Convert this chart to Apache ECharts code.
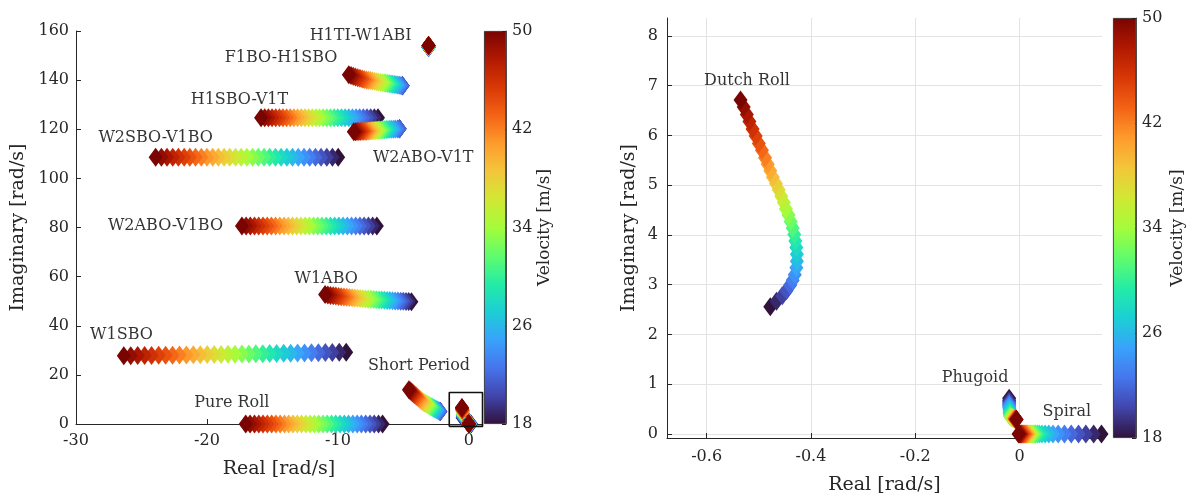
<!DOCTYPE html>
<html>
<head>
<meta charset="utf-8">
<script src="https://cdn.jsdelivr.net/npm/echarts@6/dist/echarts.min.js"></script>
<style>
html,body{margin:0;padding:0;background:#fff;}
#chart{width:1192px;height:503px;}
</style>
</head>
<body>
<div id="chart"></div>
<script>
// Velocity [m/s] for every point of each locus (ascending: drawn low first, high on top)
const V = [18,19,20,21,22,23,24,25,26,27,28,29,30,31,32,33,34,35,36,37,38,39,40,41,42,43,44,45,46,47,48,49,50];

// ---- Left panel loci (real, imaginary) ----
const pureRollRe = [-6.59,-6.90,-7.23,-7.55,-7.88,-8.21,-8.53,-8.86,-9.19,-9.51,-9.84,-10.17,-10.49,-10.82,-11.14,-11.47,-11.80,-12.12,-12.45,-12.78,-13.10,-13.43,-13.76,-14.08,-14.41,-14.74,-15.06,-15.39,-15.72,-16.04,-16.37,-16.71,-17.04];
const pureRollIm = [0,0,0,0,0,0,0,0,0,0,0,0,0,0,0,0,0,0,0,0,0,0,0,0,0,0,0,0,0,0,0,0,0];

const w1sboRe = [-9.37,-9.90,-10.43,-10.96,-11.49,-12.02,-12.55,-13.08,-13.61,-14.14,-14.68,-15.21,-15.74,-16.27,-16.80,-17.33,-17.86,-18.39,-18.92,-19.45,-19.98,-20.51,-21.04,-21.57,-22.10,-22.63,-23.16,-23.69,-24.23,-24.76,-25.29,-25.82,-26.35];
const w1sboIm = [29.2,29.2,29.1,29.1,29.0,29.0,28.9,28.9,28.8,28.8,28.7,28.7,28.6,28.6,28.5,28.5,28.4,28.4,28.3,28.3,28.3,28.2,28.2,28.1,28.1,28.0,28.0,28.0,27.9,27.9,27.9,27.8,27.8];

const w1aboRe = [-4.39,-4.60,-4.80,-5.01,-5.21,-5.42,-5.63,-5.83,-6.04,-6.24,-6.45,-6.66,-6.86,-7.07,-7.27,-7.48,-7.69,-7.89,-8.10,-8.30,-8.51,-8.72,-8.92,-9.13,-9.33,-9.54,-9.75,-9.95,-10.16,-10.36,-10.57,-10.77,-10.98];
const w1aboIm = [49.8,49.9,49.9,50.0,50.0,50.1,50.1,50.2,50.3,50.3,50.4,50.5,50.5,50.6,50.7,50.8,50.8,50.9,51.0,51.1,51.2,51.3,51.4,51.5,51.6,51.7,51.8,51.9,52.1,52.2,52.3,52.5,52.7];

const w2aboV1boRe = [-7.03,-7.35,-7.67,-8.00,-8.32,-8.64,-8.96,-9.28,-9.61,-9.93,-10.25,-10.57,-10.89,-11.22,-11.54,-11.86,-12.18,-12.50,-12.83,-13.15,-13.47,-13.79,-14.11,-14.44,-14.76,-15.08,-15.40,-15.72,-16.05,-16.37,-16.69,-17.01,-17.33];
const w2aboV1boIm = [80.6,80.6,80.6,80.6,80.6,80.6,80.6,80.6,80.6,80.6,80.6,80.6,80.6,80.6,80.6,80.6,80.6,80.6,80.6,80.6,80.6,80.6,80.6,80.6,80.6,80.6,80.6,80.6,80.6,80.6,80.6,80.6,80.6];

const w2sboV1boRe = [-9.98,-10.42,-10.85,-11.29,-11.72,-12.16,-12.59,-13.03,-13.47,-13.90,-14.34,-14.77,-15.21,-15.64,-16.08,-16.51,-16.95,-17.39,-17.82,-18.26,-18.69,-19.13,-19.56,-20.00,-20.43,-20.87,-21.31,-21.74,-22.18,-22.61,-23.05,-23.48,-23.92];
const w2sboV1boIm = [108.6,108.6,108.6,108.6,108.6,108.6,108.6,108.6,108.6,108.6,108.6,108.6,108.6,108.6,108.6,108.6,108.6,108.6,108.6,108.6,108.6,108.6,108.6,108.6,108.6,108.6,108.6,108.6,108.6,108.6,108.6,108.6,108.6];

const h1sboV1tRe = [-6.94,-7.22,-7.50,-7.78,-8.06,-8.34,-8.61,-8.89,-9.17,-9.45,-9.73,-10.01,-10.29,-10.57,-10.85,-11.13,-11.41,-11.68,-11.96,-12.24,-12.52,-12.80,-13.08,-13.36,-13.64,-13.92,-14.20,-14.47,-14.75,-15.03,-15.31,-15.59,-15.87];
const h1sboV1tIm = [124.7,124.7,124.7,124.7,124.7,124.7,124.7,124.7,124.7,124.7,124.7,124.7,124.7,124.7,124.7,124.7,124.7,124.7,124.7,124.7,124.7,124.7,124.7,124.7,124.7,124.7,124.7,124.7,124.7,124.7,124.7,124.7,124.7];

const w2aboV1tRe = [-5.30,-5.30,-5.30,-5.30,-5.30,-5.45,-5.62,-5.76,-5.90,-6.04,-6.18,-6.31,-6.43,-6.56,-6.68,-6.80,-6.91,-7.02,-7.13,-7.24,-7.35,-7.46,-7.58,-7.69,-7.80,-7.92,-8.04,-8.16,-8.29,-8.41,-8.54,-8.66,-8.79];
const w2aboV1tIm = [120.2,120.2,120.2,120.2,120.2,120.15,120.1,120.05,120.0,119.95,119.9,119.85,119.8,119.75,119.7,119.65,119.6,119.55,119.5,119.45,119.4,119.35,119.3,119.25,119.2,119.2,119.15,119.15,119.1,119.1,119.05,119.0,119.0];

const f1boH1sboRe = [-5.07,-5.07,-5.07,-5.07,-5.07,-5.19,-5.32,-5.44,-5.57,-5.70,-5.83,-5.95,-6.08,-6.21,-6.34,-6.46,-6.59,-6.74,-6.90,-7.05,-7.20,-7.36,-7.51,-7.67,-7.82,-7.99,-8.15,-8.32,-8.49,-8.66,-8.83,-9.00,-9.17];
const f1boH1sboIm = [137.7,137.7,137.7,137.7,137.7,137.8,137.9,138.0,138.1,138.2,138.3,138.4,138.5,138.6,138.7,138.8,138.9,139.0,139.2,139.3,139.5,139.6,139.8,139.9,140.1,140.3,140.5,140.8,141.0,141.3,141.6,141.9,142.2];

const h1tiW1abiRe = [-3.08,-3.08,-3.08,-3.08,-3.08,-3.08,-3.08,-3.08,-3.08,-3.08,-3.08,-3.08,-3.08,-3.08,-3.08,-3.08,-3.08,-3.08,-3.08,-3.08,-3.08,-3.08,-3.08,-3.08,-3.08,-3.08,-3.08,-3.08,-3.08,-3.08,-3.08,-3.08,-3.08];
const h1tiW1abiIm = [153.3,153.3,153.35,153.4,153.4,153.45,153.5,153.5,153.55,153.6,153.6,153.65,153.7,153.7,153.75,153.8,153.8,153.8,153.85,153.85,153.9,153.9,153.9,153.95,153.95,154.0,154.0,154.0,154.05,154.05,154.1,154.1,154.1];

const shortPeriodRe = [-2.19,-2.19,-2.19,-2.19,-2.19,-2.27,-2.35,-2.42,-2.50,-2.58,-2.65,-2.73,-2.80,-2.88,-2.97,-3.05,-3.13,-3.22,-3.30,-3.39,-3.47,-3.57,-3.66,-3.76,-3.85,-3.95,-4.04,-4.14,-4.23,-4.32,-4.40,-4.49,-4.58];
const shortPeriodIm = [5.1,5.1,5.1,5.1,5.1,5.3,5.5,5.7,5.9,6.1,6.3,6.6,6.8,7.0,7.3,7.5,7.8,8.1,8.3,8.6,8.9,9.3,9.7,10.2,10.6,11.0,11.5,11.9,12.3,12.7,13.1,13.5,13.9];

// ---- Low-frequency modes (right panel, also inside the box of the left panel) ----
const dutchRollRe = [-0.478,-0.466,-0.455,-0.447,-0.440,-0.435,-0.431,-0.428,-0.427,-0.427,-0.428,-0.430,-0.432,-0.435,-0.439,-0.443,-0.448,-0.452,-0.457,-0.462,-0.467,-0.473,-0.478,-0.483,-0.488,-0.494,-0.500,-0.506,-0.512,-0.518,-0.523,-0.529,-0.535];
const dutchRollIm = [2.56,2.67,2.78,2.88,2.99,3.09,3.20,3.34,3.47,3.61,3.75,3.88,4.01,4.14,4.27,4.40,4.52,4.65,4.78,4.91,5.03,5.16,5.29,5.42,5.55,5.70,5.84,5.99,6.13,6.28,6.42,6.57,6.71];

const phugoidRe = [-0.020,-0.020,-0.020,-0.020,-0.020,-0.020,-0.020,-0.020,-0.019,-0.019,-0.019,-0.019,-0.018,-0.018,-0.018,-0.017,-0.016,-0.015,-0.014,-0.013,-0.012,-0.011,-0.010,-0.010,-0.009,-0.009,-0.008,-0.008,-0.007,-0.007,-0.006,-0.006,-0.006];
const phugoidIm = [0.72,0.68,0.65,0.62,0.60,0.58,0.56,0.53,0.50,0.47,0.44,0.41,0.39,0.37,0.35,0.34,0.33,0.33,0.32,0.32,0.32,0.31,0.31,0.31,0.30,0.30,0.30,0.30,0.29,0.29,0.29,0.29,0.29];

const spiralRe = [0.157,0.142,0.127,0.113,0.099,0.086,0.074,0.064,0.056,0.049,0.043,0.038,0.034,0.031,0.028,0.026,0.024,0.022,0.021,0.019,0.018,0.016,0.015,0.013,0.012,0.010,0.008,0.006,0.004,0.003,0.002,0.000,-0.002];
const spiralIm = [0,0,0,0,0,0,0,0,0,0,0,0,0,0,0,0,0,0,0,0,0,0,0,0,0,0,0,0,0,0,0,0,0];

// ---- Annotations ----
const leftLabels = ['H1TI-W1ABI','F1BO-H1SBO','H1SBO-V1T','W2SBO-V1BO','W2ABO-V1T','W2ABO-V1BO','W1ABO','W1SBO','Short Period','Pure Roll'];
const leftLabelRe = [-8.27,-14.34,-17.52,-23.92,-3.49,-23.17,-10.9,-26.53,-3.81,-18.1];
const leftLabelIm = [158.0,149.0,132.0,116.3,108.2,80.7,59.2,36.5,23.5,8.6];
const rightLabels = ['Dutch Roll','Phugoid','Spiral'];
const rightLabelRe = [-0.5226,-0.0853,0.0904];
const rightLabelIm = [7.09,1.12,0.45];

// zoom box drawn on the left panel (data coordinates)
const boxRe = [-1.5,1.04,1.04,-1.5,-1.5];
const boxIm = [-0.98,-0.98,12.85,12.85,-0.98];

// colour bar ticks
const velTicksMin = 18, velTicksMax = 50, velTickStep = 8;
const leftXTicks = [-30,-20,-10,0];
const leftYTicks = [0,20,40,60,80,100,120,140,160];
const rightXTicks = [-0.6,-0.4,-0.2,0];
const rightYTicks = [0,1,2,3,4,5,6,7,8];

const turbo = ['#30123b','#4145ab','#4675ed','#39a2fc','#1bcfd4','#24eca6','#61fc6c','#a4fc3b','#d1e834','#f3c63a','#fe9b2d','#f36315','#d93806','#b11901','#7a0402'];

const FONT = 'DejaVu Serif';
const AX = '#262626';

function mk(re, im){ return V.map((v,i)=>[re[i], im[i], v]); }

const chart = echarts.init(document.getElementById('chart'), null, {renderer:'canvas'});

const leftLoci = [
  [pureRollRe,pureRollIm],[w1sboRe,w1sboIm],[w1aboRe,w1aboIm],[w2aboV1boRe,w2aboV1boIm],
  [w2sboV1boRe,w2sboV1boIm],[h1sboV1tRe,h1sboV1tIm],[w2aboV1tRe,w2aboV1tIm],[f1boH1sboRe,f1boH1sboIm],
  [h1tiW1abiRe,h1tiW1abiIm],[shortPeriodRe,shortPeriodIm],[dutchRollRe,dutchRollIm],[phugoidRe,phugoidIm],[spiralRe,spiralIm]
];
const rightLoci = [[dutchRollRe,dutchRollIm],[phugoidRe,phugoidIm],[spiralRe,spiralIm]];

const series = [];
const colored = [];
leftLoci.forEach(([re,im])=>{
  colored.push(series.length);
  series.push({type:'scatter', xAxisIndex:0, yAxisIndex:0, symbol:'diamond', symbolSize:[14,19], itemStyle:{opacity:1}, data: mk(re,im), silent:true, clip:false});
});
rightLoci.forEach(([re,im])=>{
  colored.push(series.length);
  series.push({type:'scatter', xAxisIndex:2, yAxisIndex:2, symbol:'diamond', symbolSize:[14,19], itemStyle:{opacity:1}, data: mk(re,im), silent:true, clip:true});
});

const labelStyle = {show:true, position:'inside', formatter:p=>p.name, fontFamily:FONT, fontSize:16, color:'#000', textBorderWidth:0};
series.push({type:'scatter', xAxisIndex:0, yAxisIndex:0, symbolSize:1, itemStyle:{color:'rgba(0,0,0,0)'}, label:labelStyle, silent:true, clip:false,
  data: leftLabels.map((n,i)=>({name:n, value:[leftLabelRe[i], leftLabelIm[i]]}))});
series.push({type:'scatter', xAxisIndex:2, yAxisIndex:2, symbolSize:1, itemStyle:{color:'rgba(0,0,0,0)'}, label:labelStyle, silent:true, clip:false,
  data: rightLabels.map((n,i)=>({name:n, value:[rightLabelRe[i], rightLabelIm[i]]}))});
// zoom box
series.push({type:'line', xAxisIndex:0, yAxisIndex:0, symbol:'none', clip:false, silent:true, z:5,
  lineStyle:{color:'#111', width:1.6}, data: boxRe.map((x,i)=>[x, boxIm[i]])});

// colour bars (stacked: invisible base below the axis min, gradient between min and max)
const grad = new echarts.graphic.LinearGradient(0,0,0,1, turbo.slice().reverse().map((c,i,a)=>({offset:i/(a.length-1), color:c})));
[1,3].forEach(ax=>{
  series.push({type:'bar', xAxisIndex:ax, yAxisIndex:ax, stack:'cb'+ax, barWidth:'100%', silent:true, data:[velTicksMin], itemStyle:{color:'rgba(0,0,0,0)'}});
  series.push({type:'bar', xAxisIndex:ax, yAxisIndex:ax, stack:'cb'+ax, barWidth:'100%', silent:true, data:[velTicksMax-velTicksMin], itemStyle:{color:grad, borderColor:AX, borderWidth:0.8}});
});

const tickLbl = {fontFamily:FONT, fontSize:16, color:AX};
const nameSt = {fontFamily:FONT, fontSize:19, color:AX};

const option = {
  animation:false,
  backgroundColor:'#fff',
  grid:[
    {left:76, top:31, width:406, height:393},
    {left:484, top:31, width:22, height:393},
    {left:667, top:18, width:435, height:420},
    {left:1113, top:18, width:23, height:420}
  ],
  visualMap:[{type:'continuous', show:false, min:velTicksMin, max:velTicksMax, dimension:2, seriesIndex:colored, inRange:{color:turbo, opacity:1}}],
  xAxis:[
    {gridIndex:0, type:'value', min:-30, max:1,
     axisLine:{show:true, onZero:false, lineStyle:{color:AX, width:1}},
     axisTick:{show:true, inside:true, length:5, customValues:leftXTicks, lineStyle:{color:AX}},
     axisLabel:Object.assign({customValues:leftXTicks, margin:9}, tickLbl),
     splitLine:{show:false},
     name:'Real [rad/s]', nameLocation:'middle', nameGap:36, nameTextStyle:nameSt},
    {gridIndex:1, type:'category', data:['cb'], show:false},
    {gridIndex:2, type:'value', min:-0.676, max:0.158,
     axisLine:{show:true, onZero:false, lineStyle:{color:AX, width:1}},
     axisTick:{show:true, inside:true, length:5, customValues:rightXTicks, lineStyle:{color:AX}},
     axisLabel:Object.assign({customValues:rightXTicks, margin:11}, tickLbl),
     splitLine:{show:true, lineStyle:{color:'#e3e3e3', width:1}},
     name:'Real [rad/s]', nameLocation:'middle', nameGap:38, nameTextStyle:nameSt},
    {gridIndex:3, type:'category', data:['cb'], show:false}
  ],
  yAxis:[
    {gridIndex:0, type:'value', min:0, max:160,
     axisLine:{show:true, onZero:false, lineStyle:{color:AX, width:1}},
     axisTick:{show:true, inside:true, length:5, customValues:leftYTicks, lineStyle:{color:AX}},
     axisLabel:Object.assign({customValues:leftYTicks, margin:7}, tickLbl),
     splitLine:{show:false},
     name:'Imaginary [rad/s]', nameLocation:'middle', nameRotate:90, nameGap:48, nameTextStyle:nameSt},
    {gridIndex:1, type:'value', min:velTicksMin, max:velTicksMax, interval:velTickStep, position:'right',
     axisLine:{show:true, lineStyle:{color:AX, width:0.8}},
     axisTick:{show:true, inside:true, length:4, lineStyle:{color:AX}},
     axisLabel:Object.assign({margin:6}, tickLbl),
     splitLine:{show:false},
     name:'Velocity [m/s]', nameLocation:'middle', nameRotate:90, nameGap:30, nameTextStyle:Object.assign({}, nameSt, {fontSize:17})},
    {gridIndex:2, type:'value', min:-0.08, max:8.36,
     axisLine:{show:true, onZero:false, lineStyle:{color:AX, width:1}},
     axisTick:{show:true, inside:true, length:5, customValues:rightYTicks, lineStyle:{color:AX}},
     axisLabel:Object.assign({customValues:rightYTicks, margin:9}, tickLbl),
     splitLine:{show:true, lineStyle:{color:'#e3e3e3', width:1}},
     name:'Imaginary [rad/s]', nameLocation:'middle', nameRotate:90, nameGap:28, nameTextStyle:nameSt},
    {gridIndex:3, type:'value', min:velTicksMin, max:velTicksMax, interval:velTickStep, position:'right',
     axisLine:{show:true, lineStyle:{color:AX, width:0.8}},
     axisTick:{show:true, inside:true, length:4, lineStyle:{color:AX}},
     axisLabel:Object.assign({margin:6}, tickLbl),
     splitLine:{show:false},
     name:'Velocity [m/s]', nameLocation:'middle', nameRotate:90, nameGap:33, nameTextStyle:Object.assign({}, nameSt, {fontSize:17})}
  ],
  series: series
};
chart.setOption(option);
</script>
</body>
</html>
